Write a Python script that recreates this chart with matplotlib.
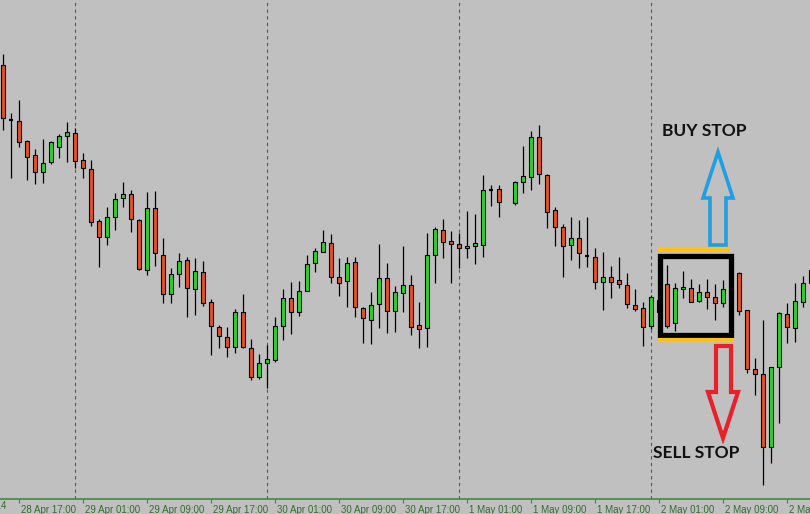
import numpy as np
import matplotlib
matplotlib.use("Agg")
import matplotlib.pyplot as plt
from matplotlib.patches import Polygon, Rectangle

# hourly candles, first bar = 28 Apr 15:00 (pixel rows, top = 0)
opens = [65, 120, 121, 141, 155, 172, 162, 147, 136, 133,
         160, 169, 221, 237, 217, 198, 194, 220, 270, 208,
         255, 294, 274, 260, 289, 272, 302, 327, 337, 347,
         312, 348, 377, 363, 360, 326, 298, 312, 291, 263,
         252, 243, 277, 281, 262, 308, 320, 304, 278, 311,
         293, 285, 325, 328, 255, 230, 241, 244, 248, 246,
         245, 190, 189, np.nan, 203, 182, 177, 137, 175, 210,
         227, 245, 238, 256, 257, 282, 277, 280, 285, 305,
         308, 326, 300, 284, 323, 289, 288, 301, 292, 297,
         303, 292, 273, 310, 369, 374, 447, 367, 314, 328,
         302, 283]
highs = [54, 113, 100, 140, 149, 139, 141, 134, 122, 128,
         153, 160, 219, 207, 193, 182, 190, 219, 192, 191,
         238, 268, 253, 257, 258, 261, 299, 325, 327, 309,
         294, 339, 354, 345, 317, 289, 282, 281, 255, 248,
         230, 234, 258, 257, 257, 307, 292, 244, 263, 286,
         246, 275, 302, 233, 227, 219, 231, 233, 211, 214,
         175, 185, 185, np.nan, 181, 146, 131, 125, 174, 207,
         224, 217, 220, 217, 248, 252, 266, 257, 273, 289,
         302, 295, 292, 265, 283, 271, 279, 284, 279, 284,
         280, 286, 272, 310, 358, 320, 367, 312, 303, 283,
         276, 265]
lows = [130, 178, 147, 180, 184, 183, 164, 158, 162, 168,
        178, 226, 267, 245, 230, 207, 232, 270, 275, 266,
        303, 303, 287, 317, 315, 306, 355, 348, 357, 353,
        348, 380, 379, 388, 362, 340, 334, 316, 291, 272,
        252, 283, 296, 307, 317, 343, 344, 328, 333, 332,
        312, 335, 348, 347, 283, 258, 283, 268, 258, 264,
        257, 206, 217, np.nan, 205, 193, 190, 184, 228, 246,
        277, 260, 268, 267, 289, 310, 298, 288, 308, 311,
        346, 329, 318, 328, 331, 298, 302, 302, 309, 320,
        307, 300, 315, 373, 395, 485, 463, 423, 343, 342,
        307, 290]
closes = [118, 120, 142, 157, 172, 163, 142, 136, 132, 161,
          168, 222, 237, 217, 199, 194, 219, 269, 208, 253,
          294, 274, 261, 288, 271, 303, 326, 336, 347, 312,
          347, 377, 363, 359, 326, 298, 312, 291, 264, 251,
          242, 277, 283, 263, 307, 318, 305, 278, 311, 292,
          285, 327, 329, 255, 229, 242, 244, 248, 246, 243,
          190, 190, 202, np.nan, 182, 176, 137, 174, 212, 227,
          246, 238, 253, 256, 282, 277, 282, 284, 304, 309,
          327, 297, 312, 326, 288, 287, 302, 292, 297, 303,
          289, 296, 311, 369, 374, 447, 367, 313, 327, 301,
          283, 270]

tick_pos = [2, 10, 18, 26, 34, 42, 50, 58, 66, 74, 82, 90, 98]
tick_labels = ["28 Apr 17:00", "29 Apr 01:00", "29 Apr 09:00", "29 Apr 17:00",
               "30 Apr 01:00", "30 Apr 09:00", "30 Apr 17:00", "1 May 01:00",
               "1 May 09:00", "1 May 17:00", "2 May 01:00", "2 May 09:00",
               "2 May 17:00"]
day_breaks = [9, 33, 57, 81]

BG = "#c0c0c0"
UP = "#2fd12f"
DOWN = "#e0532a"
AXC = "#2f6f2f"


def px(x):
    # screen column -> bar index
    return (x - 3) / 8.0


o = np.array(opens, dtype=float)
h = np.array(highs, dtype=float)
l = np.array(lows, dtype=float)
c = np.array(closes, dtype=float)
idx = np.arange(len(o))
ok = ~np.isnan(o)

fig = plt.figure(figsize=(8.1, 5.14), dpi=100, facecolor=BG)
ax = fig.add_axes([0, 15 / 514, 1, 499 / 514])
ax.set_facecolor(BG)

for d in day_breaks:
    ax.axvline(d, color=AXC, lw=0.8, ls=(0, (3, 3)), zorder=1)

ax.vlines(idx[ok], h[ok], l[ok], color="black", lw=0.9, zorder=2)

up = ok & (c < o)
dn = ok & (c > o)
dj = ok & (c == o)
ax.bar(idx[up], c[up] - o[up], bottom=o[up], width=0.62, color=UP,
       edgecolor="black", lw=0.8, zorder=3)
ax.bar(idx[dn], c[dn] - o[dn], bottom=o[dn], width=0.62, color=DOWN,
       edgecolor="black", lw=0.8, zorder=3)
ax.hlines(o[dj], idx[dj] - 0.31, idx[dj] + 0.31, color="black", lw=1.6, zorder=3)

# range box and the two stop levels
ax.add_patch(Rectangle((px(659.5), 255.5), px(730.5) - px(659.5), 79,
                       fill=False, ec="black", lw=3.8, zorder=5))
ax.plot([px(657), px(729)], [249, 249], color="#ffc20e", lw=3, zorder=5,
        solid_capstyle="butt")
ax.plot([px(658), px(734)], [340, 340], color="#ffc20e", lw=3, zorder=5,
        solid_capstyle="butt")

buy = [(710, 245), (726, 245), (726, 198), (733, 198), (718, 152),
       (703, 198), (710, 198)]
sell = [(716, 346), (731, 346), (731, 392), (738, 392), (723, 438),
        (708, 392), (716, 392)]
ax.add_patch(Polygon([(px(x), y) for x, y in buy], closed=True, fill=False,
                     ec="#1e9fe3", lw=2.6, zorder=6, joinstyle="miter"))
ax.add_patch(Polygon([(px(x), y) for x, y in sell], closed=True, fill=False,
                     ec="#e8202a", lw=3.0, zorder=6, joinstyle="miter"))

ax.text(px(662), 131, "BUY STOP", fontfamily="Lato", fontweight="bold",
        fontsize=12.5, color="#111111", va="center", ha="left", zorder=7)
ax.text(px(653), 453, "SELL STOP", fontfamily="Lato", fontweight="bold",
        fontsize=12.5, color="#111111", va="center", ha="left", zorder=7)

ax.set_xlim(px(0), px(810))
ax.set_ylim(499, 0)

for s in ["top", "left", "right"]:
    ax.spines[s].set_visible(False)
ax.spines["bottom"].set_color("#3c8c3c")
ax.spines["bottom"].set_linewidth(1.2)
ax.set_yticks([])
ax.set_xticks(tick_pos)
ax.set_xticklabels(tick_labels, ha="left", fontfamily="Liberation Sans",
                   fontsize=7, color=AXC)
ax.tick_params(axis="x", length=3, width=0.8, color="#3c8c3c", pad=1)
for t in ax.get_xticklabels():
    t.set_x(0)
# nudge labels a little right of their tick, as the terminal does
import matplotlib.transforms as mtrans
off = mtrans.ScaledTranslation(2 / 100, 0, fig.dpi_scale_trans)
for t in ax.get_xticklabels():
    t.set_transform(t.get_transform() + off)

fig.text(6 / 810, 3 / 514, "28 Apr 2014", ha="right", va="bottom",
         fontfamily="Liberation Sans", fontsize=7, color=AXC)

fig.savefig("out.png", dpi=100, facecolor=BG)
